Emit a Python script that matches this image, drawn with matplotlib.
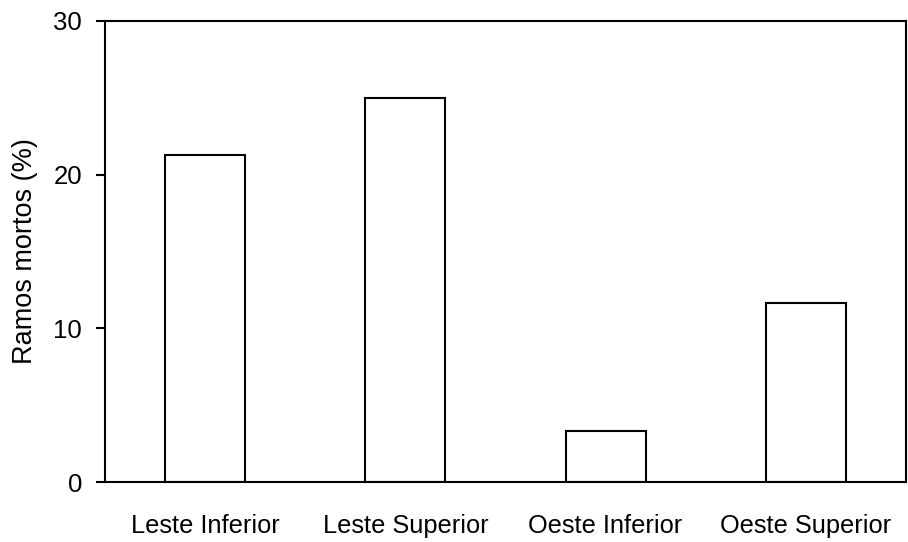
import matplotlib
matplotlib.use("Agg")
from matplotlib import pyplot as plt

plt.rcParams.update({
    "font.family": ["Liberation Sans", "DejaVu Sans"],
    "figure.facecolor": "white",
    "axes.facecolor": "white",
})

categories = ["Leste Inferior", "Leste Superior", "Oeste Inferior", "Oeste Superior"]
ramos_mortos = [21.3, 25.0, 3.35, 11.65]

fig = plt.figure(figsize=(9.08, 5.42), dpi=100)
ax = fig.add_axes([105 / 908, 1 - 482 / 542, 801 / 908, 461 / 542])

ax.bar(range(len(categories)), ramos_mortos, width=0.4,
       color="white", edgecolor="black", linewidth=1.5)

ax.set_xlim(-0.5, 3.5)
ax.set_ylim(0, 30)
ax.set_yticks([0, 10, 20, 30])
ax.set_xticks(range(len(categories)))
ax.set_xticklabels(categories, fontsize=18.3)
ax.tick_params(axis="x", length=0, pad=23)
ax.tick_params(axis="y", length=6.5, width=1.5, pad=10, labelsize=18.5)
for s in ax.spines.values():
    s.set_linewidth(1.5)

ax.set_ylabel("Ramos mortos (%)", fontsize=19.5)
ax.yaxis.set_label_coords(-0.084, 0.5)

fig.savefig("out.png", dpi=100)
